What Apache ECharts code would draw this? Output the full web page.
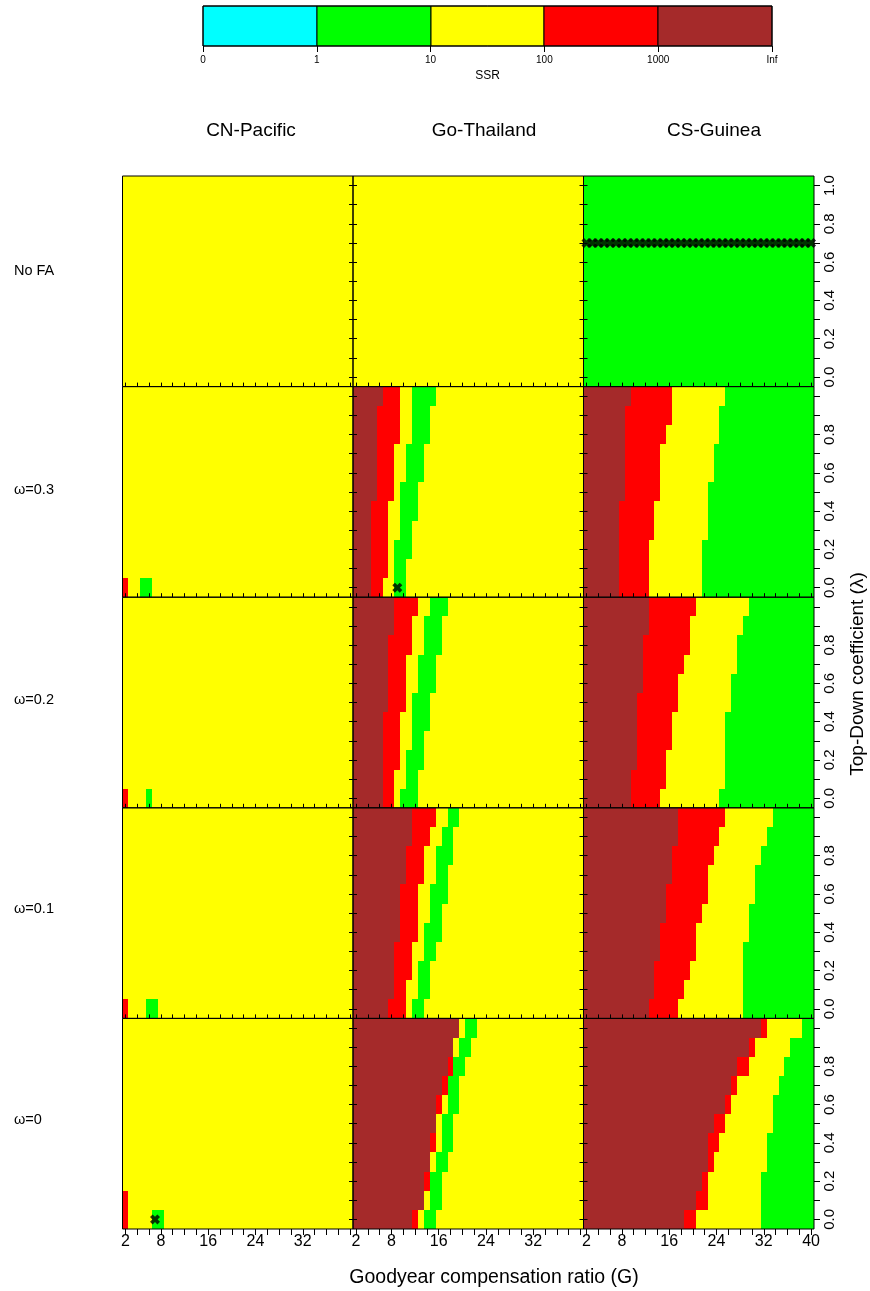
<!DOCTYPE html>
<html><head><meta charset="utf-8">
<script src="https://cdn.jsdelivr.net/npm/echarts@6/dist/echarts.min.js"></script>
<style>html,body{margin:0;padding:0;background:#fff}#c{width:870px;height:1291px}</style>
</head><body><div id="c"></div>
<script>
// ---------------- data ----------------
const gValues = [2,3,4,5,6,7,8,9,10,11,12,13,14,15,16,17,18,19,20,21,22,23,24,25,26,27,28,29,30,31,32,33,34,35,36,37,38,39,40];
const lambdaLabels = ['0.0','0.1','0.2','0.3','0.4','0.5','0.6','0.7','0.8','0.9','1.0'];
const stockNames = ['CN-Pacific','Go-Thailand','CS-Guinea'];
const scenarioNames = ['No FA','ω=0.3','ω=0.2','ω=0.1','ω=0'];
const ssrClasses = ['0-1','1-10','10-100','100-1000','1000-Inf'];
const ssrColors = ['#00FFFF','#00FF00','#FFFF00','#FF0000','#A52A2A'];
const ssrTickLabels = ['0','1','10','100','1000','Inf'];
const xTickLabels = [2,8,16,24,32,40];
const yTickLabels = ['0.0','0.2','0.4','0.6','0.8','1.0'];
// SSR class codes: 0 = 0-1, 1 = 1-10, 2 = 10-100, 3 = 100-1000, 4 = 1000-Inf

// CN-Pacific: uniform 10-100 except these cells [G, lambda, class]
const pac_noFA_cells = [];
const pac_w03_cells = [[2,'0.0',3],[5,'0.0',1],[6,'0.0',1]];
const pac_w02_cells = [[2,'0.0',3],[6,'0.0',1]];
const pac_w01_cells = [[2,'0.0',3],[6,'0.0',1],[7,'0.0',1]];
const pac_w00_cells = [[2,'0.0',3],[2,'0.1',3],[7,'0.0',1],[8,'0.0',1]];

// Go-Thailand: last G of each class along each lambda row (lambda 0.0 ... 1.0),
// order brown(1000-Inf) | red(100-1000) | yellow(10-100) | green(1-10) | then yellow
const thai_noFA_fill = 2;
const thai_w03_brown  = [4,4,4,4,4,5,5,5,5,5,6];
const thai_w03_red    = [6,7,7,7,7,8,8,8,9,9,9];
const thai_w03_yellow = [8,8,8,9,9,9,10,10,11,11,11];
const thai_w03_green  = [10,10,11,11,12,12,13,13,14,14,15];
const thai_w02_brown  = [6,6,6,6,6,7,7,7,7,8,8];
const thai_w02_red    = [8,8,9,9,9,10,10,10,11,11,12];
const thai_w02_yellow = [9,10,10,11,11,11,12,12,13,13,14];
const thai_w02_green  = [12,12,13,13,14,14,15,15,16,16,17];
const thai_w01_brown  = [7,8,8,8,9,9,9,10,10,11,11];
const thai_w01_red    = [10,10,11,11,12,12,12,13,13,14,15];
const thai_w01_yellow = [11,12,12,13,13,14,14,15,15,16,17];
const thai_w01_green  = [13,14,14,15,16,16,17,17,18,18,19];
const thai_w00_brown  = [11,13,13,14,14,15,15,16,17,18,19];
const thai_w00_red    = [12,13,14,14,15,15,16,17,18,18,19];
const thai_w00_yellow = [13,14,14,15,16,16,17,17,18,19,20];
const thai_w00_green  = [15,16,16,17,18,18,19,19,20,21,22];

// CS-Guinea: brown | red | yellow | then green to G=40
const guin_noFA_fill = 1;
const guin_w03_brown  = [7,7,7,7,7,8,8,8,8,8,9];
const guin_w03_red    = [12,12,12,13,13,14,14,14,15,16,16];
const guin_w03_yellow = [21,21,21,22,22,22,23,23,24,24,25];
const guin_w02_brown  = [9,9,10,10,10,10,11,11,11,12,12];
const guin_w02_red    = [14,15,15,16,16,17,17,18,19,19,20];
const guin_w02_yellow = [24,25,25,25,25,26,26,27,27,28,29];
const guin_w01_brown  = [12,13,13,14,14,15,15,16,16,17,17];
const guin_w01_red    = [17,18,19,20,20,21,22,22,23,24,25];
const guin_w01_yellow = [28,28,28,28,29,29,30,30,31,32,33];
const guin_w00_brown  = [18,20,21,22,22,23,25,26,27,29,31];
const guin_w00_red    = [20,22,22,23,24,25,26,27,29,30,32];
const guin_w00_yellow = [31,31,31,32,32,33,33,34,35,36,38];

// best-fit markers [G, lambda]
const best_pac_w00 = [[7,'0.0']];
const best_thai_w03 = [[9,'0.0']];
const best_guin_noFA = [[2,'0.7'],[3,'0.7'],[4,'0.7'],[5,'0.7'],[6,'0.7'],[7,'0.7'],[8,'0.7'],[9,'0.7'],[10,'0.7'],[11,'0.7'],[12,'0.7'],[13,'0.7'],[14,'0.7'],[15,'0.7'],[16,'0.7'],[17,'0.7'],[18,'0.7'],[19,'0.7'],[20,'0.7'],[21,'0.7'],[22,'0.7'],[23,'0.7'],[24,'0.7'],[25,'0.7'],[26,'0.7'],[27,'0.7'],[28,'0.7'],[29,'0.7'],[30,'0.7'],[31,'0.7'],[32,'0.7'],[33,'0.7'],[34,'0.7'],[35,'0.7'],[36,'0.7'],[37,'0.7'],[38,'0.7'],[39,'0.7'],[40,'0.7']];

// ---------------- builders ----------------
function fromCells(cells, fill) {
  const out = [];
  lambdaLabels.forEach((l, yi) => gValues.forEach((g, xi) => {
    const hit = cells.find(c => c[0] === g && c[1] === l);
    out.push([xi, yi, hit ? hit[2] : fill]);
  }));
  return out;
}
function fromBands(brown, red, yellow, green, rest) {
  const out = [];
  lambdaLabels.forEach((l, yi) => gValues.forEach((g, xi) => {
    let v = rest;
    if (g <= brown[yi]) v = 4;
    else if (g <= red[yi]) v = 3;
    else if (g <= yellow[yi]) v = 2;
    else if (green && g <= green[yi]) v = 1;
    out.push([xi, yi, v]);
  }));
  return out;
}
function toIdx(pts) { return pts.map(p => [gValues.indexOf(p[0]), lambdaLabels.indexOf(p[1])]); }

const panelData = [
  [fromCells(pac_noFA_cells, 2), fromCells([], thai_noFA_fill), fromCells([], guin_noFA_fill)],
  [fromCells(pac_w03_cells, 2), fromBands(thai_w03_brown, thai_w03_red, thai_w03_yellow, thai_w03_green, 2), fromBands(guin_w03_brown, guin_w03_red, guin_w03_yellow, null, 1)],
  [fromCells(pac_w02_cells, 2), fromBands(thai_w02_brown, thai_w02_red, thai_w02_yellow, thai_w02_green, 2), fromBands(guin_w02_brown, guin_w02_red, guin_w02_yellow, null, 1)],
  [fromCells(pac_w01_cells, 2), fromBands(thai_w01_brown, thai_w01_red, thai_w01_yellow, thai_w01_green, 2), fromBands(guin_w01_brown, guin_w01_red, guin_w01_yellow, null, 1)],
  [fromCells(pac_w00_cells, 2), fromBands(thai_w00_brown, thai_w00_red, thai_w00_yellow, thai_w00_green, 2), fromBands(guin_w00_brown, guin_w00_red, guin_w00_yellow, null, 1)]
];
const panelMarkers = [
  [null, null, best_guin_noFA],
  [null, best_thai_w03, null],
  [null, null, null],
  [null, null, null],
  [best_pac_w00, null, null]
];

// ---------------- layout ----------------
const FONT = '"Liberation Sans", Arial, sans-serif';
const colLeft = [122.5, 353, 583.5], colW = 230.5;
const rowTop = [176, 386.6, 597.2, 807.8, 1018.4], rowH = 210.6;
const xMark = 'path://M0,2.6 L2.6,0 L5,2.4 L7.4,0 L10,2.6 L7.6,5 L10,7.4 L7.4,10 L5,7.6 L2.6,10 L0,7.4 L2.4,5 Z';

// cell renderer: pixel-snapped rectangles so neighbouring cells leave no seams
function cellItem(stroke) {
  return function (params, api) {
    const p = api.coord([api.value(0), api.value(1)]);
    const s = api.size([1, 1]);
    const x0 = Math.round(p[0] - s[0] / 2), x1 = Math.round(p[0] + s[0] / 2);
    const y0 = Math.round(p[1] - s[1] / 2), y1 = Math.round(p[1] + s[1] / 2);
    return {type:'rect', shape:{x:x0, y:y0, width:x1 - x0, height:y1 - y0},
      style:{fill:ssrColors[api.value(2)], stroke:stroke ? '#000' : null, lineWidth:stroke ? 1 : 0}};
  };
}

const grids = [], xAxes = [], yAxes = [], series = [];

// colour key
grids.push({left:203, top:6, width:569, height:40, show:true, borderColor:'#000', borderWidth:1, backgroundColor:'transparent', z:10});
xAxes.push({gridIndex:0, type:'category', data:ssrClasses, show:false});
xAxes.push({gridIndex:0, type:'value', min:0, max:5, interval:1, position:'bottom', z:10,
  axisLine:{show:false}, splitLine:{show:false},
  axisTick:{show:true, length:6, lineStyle:{color:'#000', width:1}},
  axisLabel:{formatter:v => ssrTickLabels[v], fontSize:10, color:'#000', margin:9, fontFamily:FONT},
  name:'SSR', nameLocation:'middle', nameGap:24, nameTextStyle:{fontSize:12, color:'#000', fontFamily:FONT}});
yAxes.push({gridIndex:0, type:'category', data:['SSR'], show:false});
series.push({type:'custom', xAxisIndex:0, yAxisIndex:0, renderItem:cellItem(true),
  data:ssrClasses.map((_, i) => [i, 0, i]), encode:{x:0, y:1}, silent:true});

for (let r = 0; r < 5; r++) {
  for (let c = 0; c < 3; c++) {
    const gi = grids.length;
    grids.push({left:colLeft[c], top:rowTop[r], width:colW, height:rowH, show:true,
      borderColor:'#000', borderWidth:1, backgroundColor:'transparent', z:10});
    const xi = xAxes.length;
    xAxes.push({gridIndex:gi, type:'category', data:gValues.map(String), position:'bottom', z:10,
      axisLine:{show:false}, splitLine:{show:false},
      axisTick:{show:true, alignWithLabel:true, inside:r < 4, length:r < 4 ? 4 : 6,
        interval:(i, v) => Number(v) % 2 === 0, lineStyle:{color:'#000', width:1}},
      axisLabel:{show:r === 4, color:'#000', fontSize:16, margin:5, fontFamily:FONT,
        interval:(i, v) => xTickLabels.includes(Number(v)) && (c === 2 || Number(v) !== 40)}});
    const yl = yAxes.length;
    yAxes.push({gridIndex:gi, type:'category', data:lambdaLabels, position:'left', z:10,
      axisLine:{show:false}, splitLine:{show:false},
      axisTick:{show:c > 0, inside:true, length:4, alignWithLabel:true, interval:0, lineStyle:{color:'#000'}},
      axisLabel:{show:false}});
    yAxes.push({gridIndex:gi, type:'category', data:lambdaLabels, position:'right', z:10,
      axisLine:{show:false}, splitLine:{show:false},
      axisTick:{show:true, inside:c < 2, length:c < 2 ? 4 : 6, alignWithLabel:true, interval:0, lineStyle:{color:'#000'}},
      axisLabel:{show:c === 2, rotate:90, color:'#000', fontSize:15, margin:8, fontFamily:FONT,
        interval:(i, v) => yTickLabels.includes(v) && (r === 0 || v !== '1.0')}});
    series.push({type:'custom', xAxisIndex:xi, yAxisIndex:yl, renderItem:cellItem(false),
      data:panelData[r][c], encode:{x:0, y:1}, silent:true});
    const mk = panelMarkers[r][c];
    if (mk) series.push({type:'scatter', xAxisIndex:xi, yAxisIndex:yl, data:toIdx(mk), symbol:xMark,
      symbolSize:10, itemStyle:{color:'#000'}, z:12, silent:true});
  }
}

const texts = [];
const colTitleX = [251, 484, 714];
stockNames.forEach((n, i) => texts.push({type:'text', x:colTitleX[i], y:131, z:20,
  style:{text:n, font:'19px ' + FONT, fill:'#000', textAlign:'center', textVerticalAlign:'middle', align:'center', verticalAlign:'middle'}}));
const rowLabelY = [271, 490, 700, 909, 1120];
scenarioNames.forEach((n, i) => texts.push({type:'text', x:14, y:rowLabelY[i], z:20,
  style:{text:n, font:'14.5px ' + FONT, fill:'#000', textAlign:'left', textVerticalAlign:'middle', align:'left', verticalAlign:'middle'}}));
texts.push({type:'text', x:494, y:1278, z:20,
  style:{text:'Goodyear compensation ratio (G)', font:'19.5px ' + FONT, fill:'#000', textAlign:'center', textVerticalAlign:'middle', align:'center', verticalAlign:'middle'}});
texts.push({type:'text', x:858, y:674, rotation:Math.PI / 2, z:20,
  style:{text:'Top-Down coefficient (λ)', font:'19px ' + FONT, fill:'#000', textAlign:'center', textVerticalAlign:'middle', align:'center', verticalAlign:'middle'}});

const chart = echarts.init(document.getElementById('c'), null, {renderer:'canvas', width:870, height:1291});
chart.setOption({
  animation:false,
  backgroundColor:'#fff',
  grid:grids, xAxis:xAxes, yAxis:yAxes,
  graphic:texts,
  series:series
});
</script></body></html>
